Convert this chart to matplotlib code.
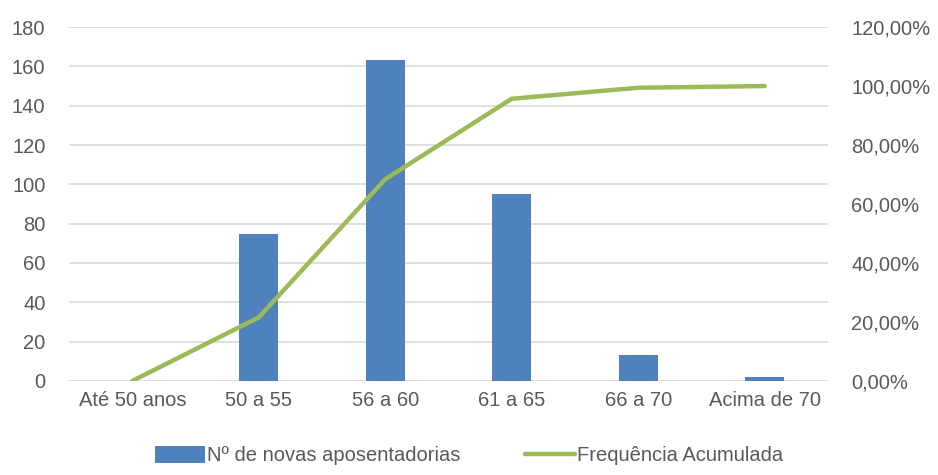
import matplotlib.pyplot as plt
from matplotlib.ticker import FuncFormatter

categorias = ["Até 50 anos", "50 a 55", "56 a 60", "61 a 65", "66 a 70", "Acima de 70"]
novas_aposentadorias = [0, 75, 163, 95, 13, 2]
freq_acumulada = [0.0, 0.2155, 0.6839, 0.9569, 0.9943, 1.0]

plt.rcParams['font.family'] = ['Liberation Sans', 'DejaVu Sans']
cor_texto = "#595959"

fig = plt.figure(figsize=(9.38, 4.75), dpi=100)
ax = fig.add_axes([0.0736, 0.198, 0.809, 0.745])
ax2 = ax.twinx()

x = list(range(len(categorias)))
barras = ax.bar(x, novas_aposentadorias, width=0.31, color="#4F81BD", zorder=2,
                label="Nº de novas aposentadorias")
linha, = ax2.plot(x, freq_acumulada, color="#9BBB59", lw=3.2, solid_capstyle="round",
                  label="Frequência Acumulada", zorder=3)

ax.set_xlim(-0.5, 5.5)
ax.set_ylim(0, 180)
ax.set_yticks(range(0, 181, 20))
ax2.set_ylim(0, 1.2)
ax2.set_yticks([i * 0.2 for i in range(7)])
ax2.yaxis.set_major_formatter(FuncFormatter(lambda v, p: f"{v*100:.2f}%".replace(".", ",")))

ax.grid(axis="y", color="#D9D9D9", lw=1.2, zorder=0)
for a in (ax, ax2):
    for s in a.spines.values():
        s.set_visible(False)
    a.tick_params(length=0, labelsize=14.5, colors=cor_texto)
ax.tick_params(axis="y", pad=17)
ax2.tick_params(axis="y", pad=17)
ax.tick_params(axis="x", pad=7)
ax.set_xticks(x)
ax.set_xticklabels(categorias)

fig.legend([barras, linha], ["Nº de novas aposentadorias", "Frequência Acumulada"],
           loc="lower center", bbox_to_anchor=(0.5, -0.018), ncol=2, frameon=False,
           fontsize=14.5, labelcolor=cor_texto, handlelength=2.5, handleheight=0.9,
           columnspacing=3.2, handletextpad=0.1)

fig.savefig("out.png", dpi=100)
